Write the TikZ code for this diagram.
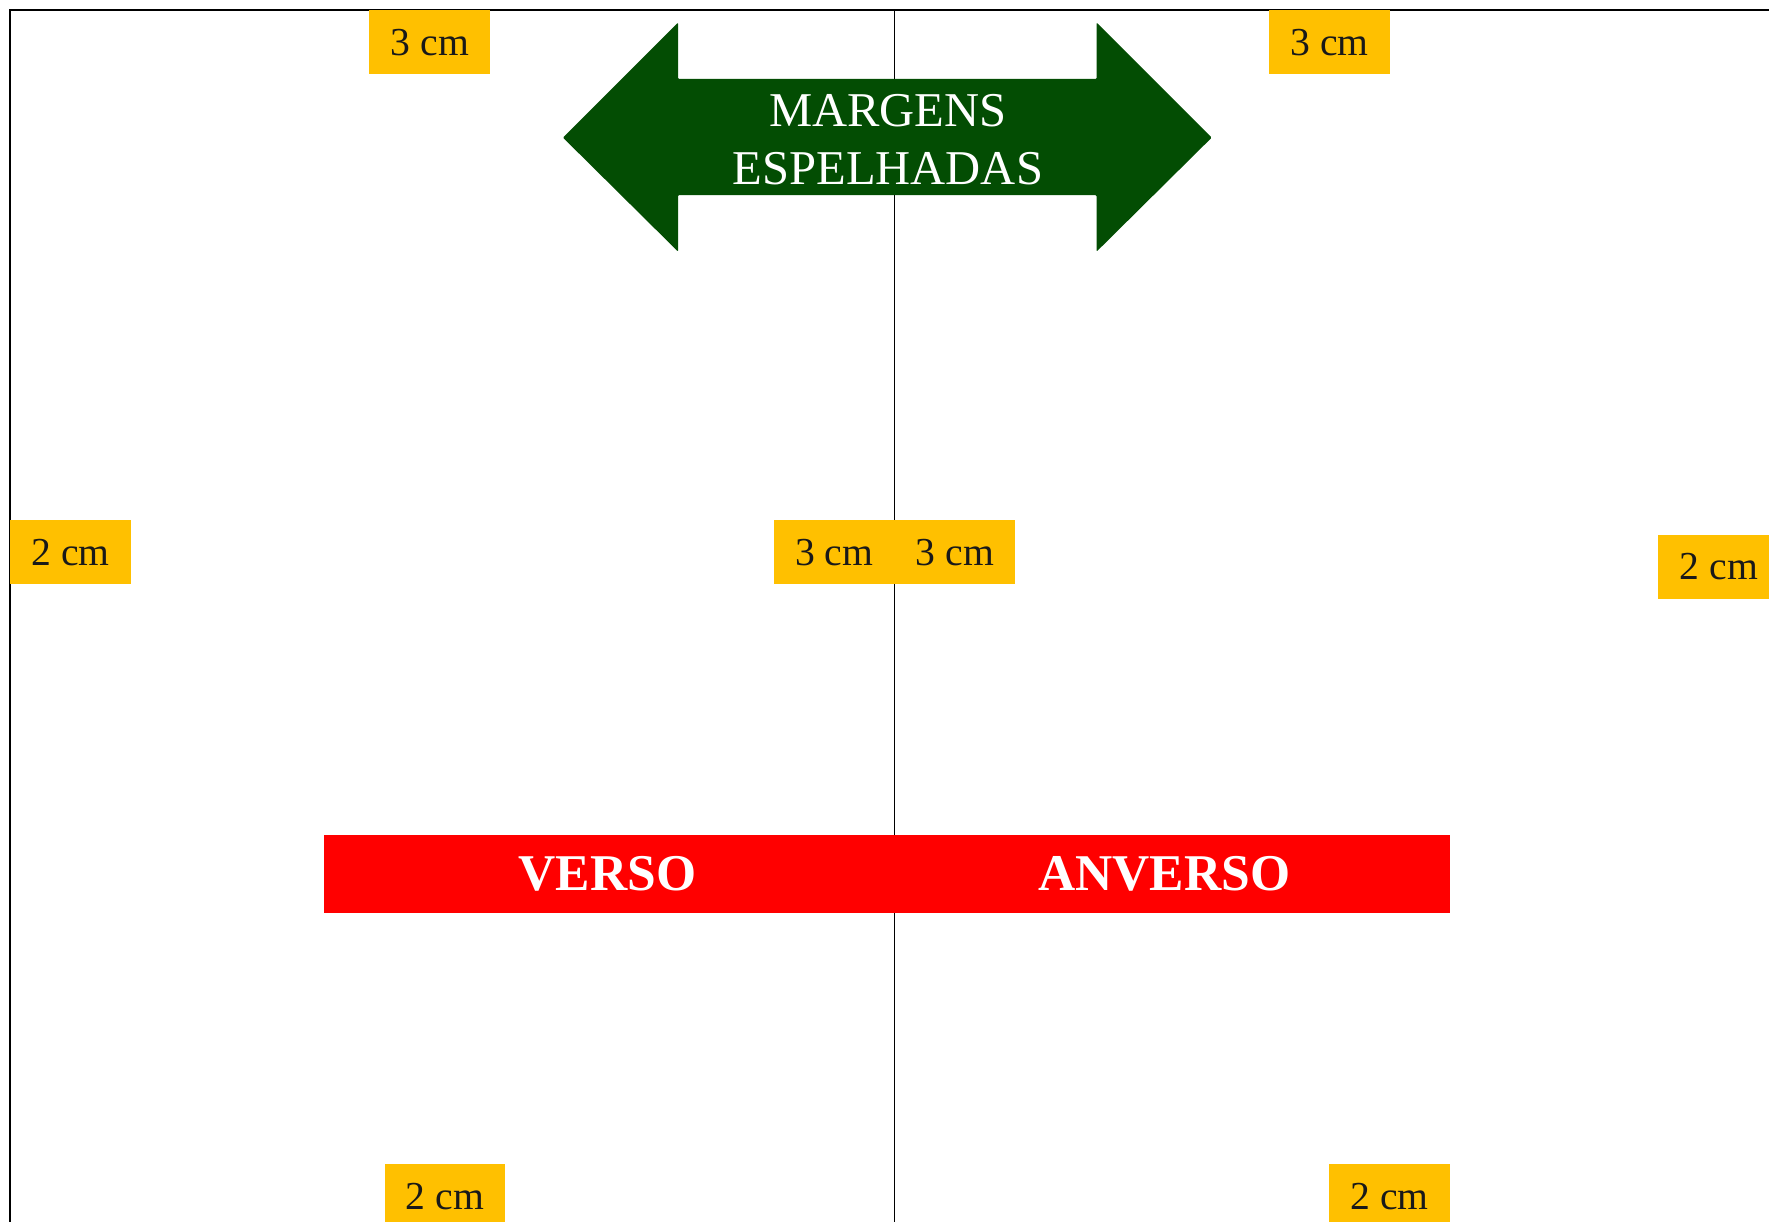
\documentclass[tikz,border=0pt]{standalone}
\usepackage{fontspec}
\setmainfont{Liberation Serif}
\definecolor{amarelo}{HTML}{FFC000}
\definecolor{verdeescuro}{HTML}{034D03}
\definecolor{vermelho}{HTML}{FF0000}

\begin{document}
\begin{tikzpicture}[x=0.2mm,y=-0.2mm,
        margem/.style={fill=amarelo,text=black!90,minimum width=21.4mm,minimum height=11.4mm,inner sep=0pt,font=\fontsize{20}{24}\selectfont},
        pagina/.style={fill=vermelho,text=white,minimum height=13.8mm,inner sep=0pt,font=\fontsize{26}{30}\selectfont\bfseries}]
            \clip (0,0) rectangle (1568,1083);

            \draw[line width=0.9pt] (9,1083) -- (9,9) -- (1568,9);
            \draw[line width=0.8pt] (793,9) -- (793,1083);

            \fill[verdeescuro,rounded corners=0.5pt] (499,122) -- (601,20) -- (601,70) -- (972,70) -- (972,20) -- (1074,122)
                -- (972,223) -- (972,173) -- (601,173) -- (601,223) -- cycle;
            \node[text=white,align=center,inner sep=0pt,font=\fontsize{24.5}{29.5}\selectfont] (titulo) at (787,124) {MARGENS\\ESPELHADAS};

            \node[margem] (sup-verso) at (381,37.5) {3 cm};
            \node[margem] (sup-anverso) at (1178.5,37.5) {3 cm};
            \node[margem] (ext-verso) at (62.5,489.5) {2 cm};
            \node[margem] (int-verso) at (739.5,489.5) {3 cm};
            \node[margem] (int-anverso) at (846.5,489.5) {3 cm};
            \node[margem] (ext-anverso) at (1523.5,502.5) {2 cm};
            \node[margem] (inf-verso) at (394.5,1060.5) {2 cm};
            \node[margem] (inf-anverso) at (1231.5,1060.5) {2 cm};

            \node[pagina,minimum width=100.6mm] (verso) at (538.5,774.5) {VERSO};
            \node[pagina,minimum width=101.2mm] (anverso) at (1032,774.5) {ANVERSO};
        \end{tikzpicture}
\end{document}
